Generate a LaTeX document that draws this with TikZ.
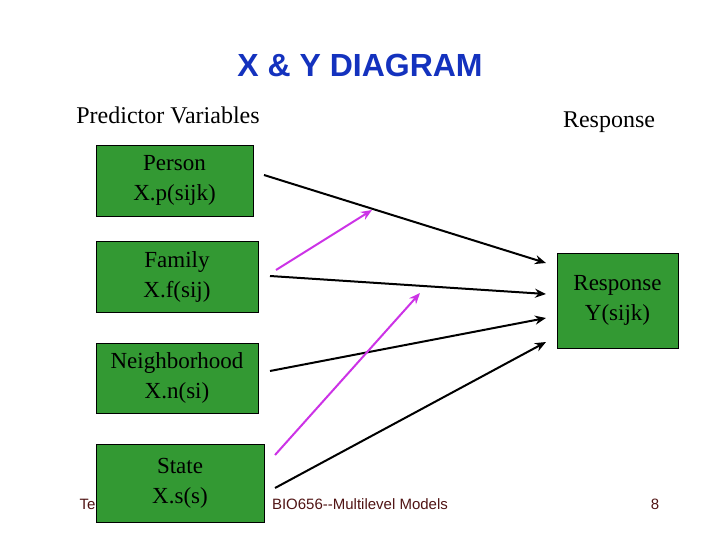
\documentclass[tikz,border=0pt]{standalone}
\usepackage{fontspec}
\setmainfont{Liberation Serif}
\newfontfamily\hv{Liberation Sans}
\usetikzlibrary{arrows.meta}
\begin{document}
\begin{tikzpicture}[x=1pt,y=-1pt,
  gbox/.style={draw=black,fill={rgb,255:red,51;green,153;blue,51},minimum width=#1,align=center,inner sep=0pt,font=\fontsize{23}{30}\selectfont},
  blk/.style={line width=2pt,-{Stealth[length=11pt,width=9pt]}},
  mag/.style={line width=2pt,draw={rgb,255:red,204;green,51;blue,230},-{Stealth[length=11pt,width=9pt]}},
  lab/.style={font=\fontsize{24}{28}\selectfont},
  foot/.style={font=\hv\fontsize{15}{17}\selectfont,text={rgb,255:red,80;green,20;blue,20}}]
\useasboundingbox (0,0) rectangle (720,540);
\node[font=\hv\bfseries\fontsize{32}{36}\selectfont,text={rgb,255:red,20;green,50;blue,190}] (title) at (360,65) {X \& Y DIAGRAM};
\node[lab] (pv) at (168,115) {Predictor Variables};
\node[lab] (resp) at (609,122) {Response};
\node[foot,anchor=west] (te) at (76,504) {Te};
\node[foot] (bio) at (360,504) {BIO656--Multilevel Models};
\node[foot] (pg) at (655,504) {8};
\node[gbox=157pt,minimum height=71pt] (person) at (174.5,180.5) {Person\\X.p(sijk)};
\node[gbox=162pt,minimum height=71pt] (family) at (177,276.5) {Family\\X.f(sij)};
\node[gbox=162pt,minimum height=70pt] (nbhd) at (177,378) {Neighborhood\\X.n(si)};
\node[gbox=168pt,minimum height=78pt] (state) at (180,483) {State\\X.s(s)};
\node[gbox=121pt,minimum height=95pt] (y) at (617.5,300.5) {Response\\Y(sijk)};
\coordinate (p0) at (264,175); \coordinate (p1) at (546,263);
\coordinate (f0) at (270,276); \coordinate (f1) at (546,294);
\coordinate (n0) at (270,371); \coordinate (n1) at (546,318);
\coordinate (s0) at (275,488); \coordinate (s1) at (546,342);
\coordinate (m0) at (276,270); \coordinate (m1) at (372,210);
\coordinate (q0) at (275,455); \coordinate (q1) at (420,293);
\draw[blk] (p0) -- (p1);
\draw[blk] (f0) -- (f1);
\draw[blk] (n0) -- (n1);
\draw[blk] (s0) -- (s1);
\draw[mag] (m0) -- (m1);
\draw[mag] (q0) -- (q1);
\end{tikzpicture}
\end{document}
